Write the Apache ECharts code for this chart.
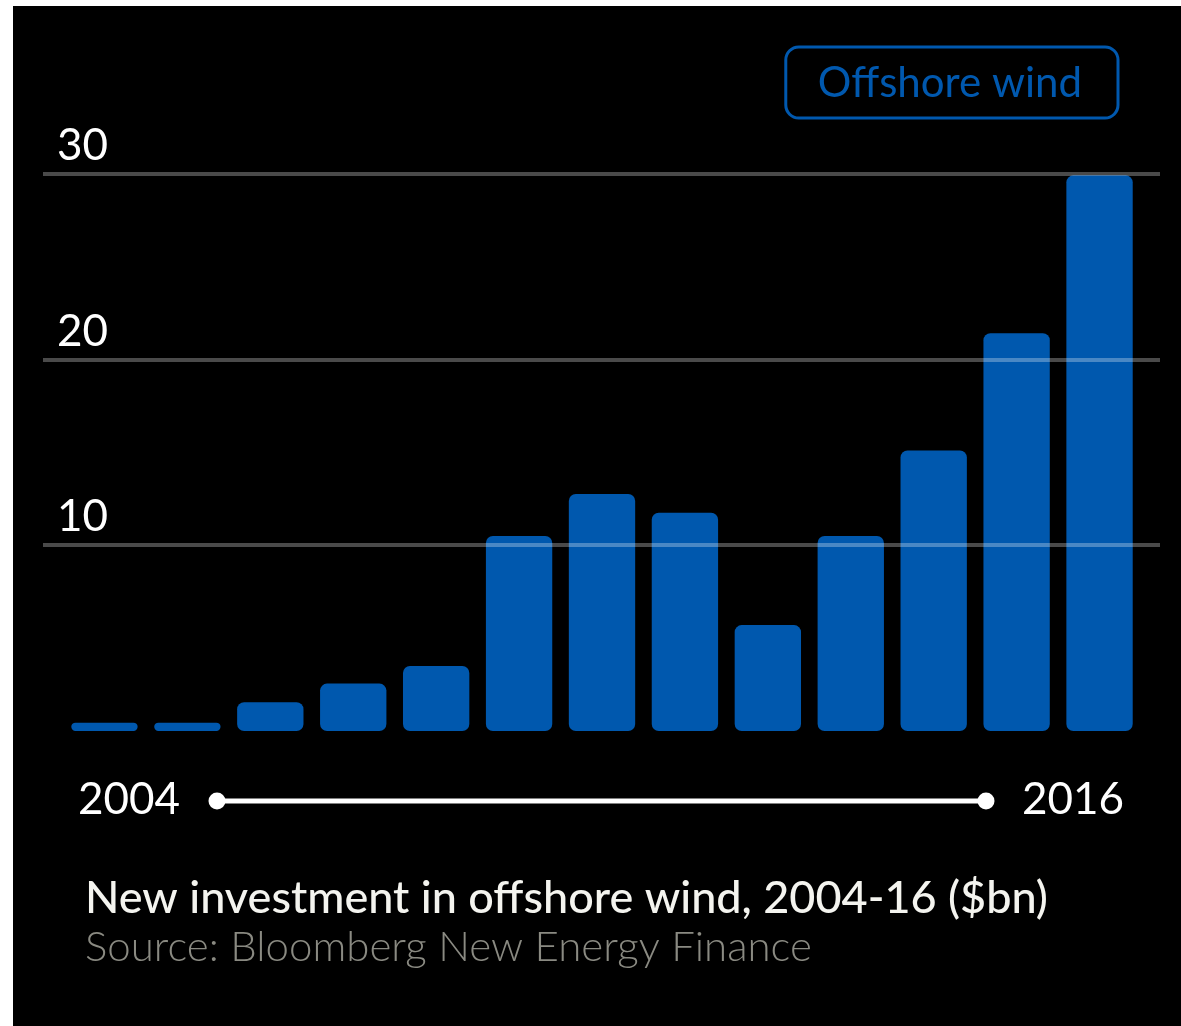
<!DOCTYPE html>
<html>
<head>
<meta charset="utf-8">
<script src="https://cdn.jsdelivr.net/npm/echarts@6/dist/echarts.min.js"></script>
<style>
  html, body { margin: 0; padding: 0; background: #000; overflow: hidden; }
  #chart { position: absolute; left: 0; top: 0; width: 1181px; height: 1026px; }
</style>
</head>
<body>
<div id="chart"></div>
<script>
// New investment in offshore wind, $bn per year
const years = ['2004', '2005', '2006', '2007', '2008', '2009', '2010',
               '2011', '2012', '2013', '2014', '2015', '2016'];
const investment = [0.45, 0.45, 1.55, 2.55, 3.5, 10.5, 12.75,
                    11.75, 5.7, 10.5, 15.1, 21.4, 29.9];
const yMin = 0;
const yMax = 30;
const yStep = 10;

const seriesName = 'Offshore wind';
const titleText = 'New investment in offshore wind, 2004-16 ($bn)';
const sourceText = 'Source: Bloomberg New Energy Finance';

const BLUE = '#0058ae';
const FONT = 'Lato, "Open Sans", sans-serif';

const chart = echarts.init(document.getElementById('chart'));

const gridTop = 173.5;
const gridBottom = 1026 - 731;

chart.setOption({
  backgroundColor: '#000',
  animation: false,
  textStyle: { fontFamily: FONT },
  title: {
    text: titleText,
    subtext: sourceText,
    left: 80,
    top: 871,
    itemGap: 5,
    textStyle: { color: '#f4f4ef', fontSize: 45, fontWeight: 500, fontFamily: FONT },
    subtextStyle: { color: '#8a8a82', fontSize: 42, fontWeight: 300, fontFamily: FONT }
  },
  legend: {
    data: [seriesName],
    top: 47,
    right: 63,
    selectedMode: false,
    itemWidth: 0,
    itemHeight: 0,
    padding: [15, 36, 14, 27],
    borderColor: BLUE,
    borderWidth: 3,
    borderRadius: 13,
    textStyle: { color: BLUE, fontSize: 42, fontFamily: FONT }
  },
  grid: [
    // bars
    { left: 63, right: 40, top: gridTop, bottom: gridBottom },
    // full-width guide lines drawn over the bars
    { left: 43, right: 21, top: gridTop, bottom: gridBottom }
  ],
  xAxis: [
    {
      type: 'category', gridIndex: 0, data: years,
      axisLine: { show: false }, axisTick: { show: false }, axisLabel: { show: false }
    },
    { type: 'value', gridIndex: 1, min: 0, max: 1, show: false }
  ],
  yAxis: [
    { type: 'value', gridIndex: 0, min: yMin, max: yMax, interval: yStep, show: false },
    {
      type: 'value', gridIndex: 1, min: yMin, max: yMax, interval: yStep,
      z: 5,
      axisLine: { show: false },
      axisTick: { show: false },
      axisLabel: {
        inside: true,
        margin: 14,
        verticalAlign: 'bottom',
        padding: [0, 0, 6, 0],
        color: '#fff',
        fontSize: 44,
        fontFamily: FONT,
        formatter: v => (v === yMin ? '' : String(v))
      },
      splitLine: {
        show: true,
        lineStyle: {
          width: 4,
          color: ['rgba(0,0,0,0)', 'rgba(255,255,255,0.29)',
                  'rgba(255,255,255,0.29)', 'rgba(255,255,255,0.29)']
        }
      }
    }
  ],
  series: [
    {
      name: seriesName,
      type: 'bar',
      xAxisIndex: 0,
      yAxisIndex: 0,
      data: investment,
      barCategoryGap: '20%',
      itemStyle: { color: BLUE, borderRadius: 7 }
    }
  ],
  graphic: [
    // white page margin on the left and top
    { type: 'rect', left: 0, top: 0, shape: { width: 13, height: 1026 }, style: { fill: '#fff' }, silent: true },
    { type: 'rect', left: 0, top: 0, shape: { width: 1181, height: 6 }, style: { fill: '#fff' }, silent: true },
    // time span indicator
    {
      type: 'line', silent: true,
      shape: { x1: 217, y1: 801, x2: 986, y2: 801 },
      style: { stroke: '#fff', lineWidth: 5, lineCap: 'round' }
    },
    { type: 'circle', silent: true, shape: { cx: 217, cy: 801, r: 8.5 }, style: { fill: '#fff' } },
    { type: 'circle', silent: true, shape: { cx: 986, cy: 801, r: 8.5 }, style: { fill: '#fff' } },
    {
      type: 'text', silent: true, left: 78, top: 778,
      style: { text: years[0], fill: '#fff', font: '44px ' + FONT }
    },
    {
      type: 'text', silent: true, left: 1022, top: 778,
      style: { text: years[years.length - 1], fill: '#fff', font: '44px ' + FONT }
    }
  ]
});
</script>
</body>
</html>
